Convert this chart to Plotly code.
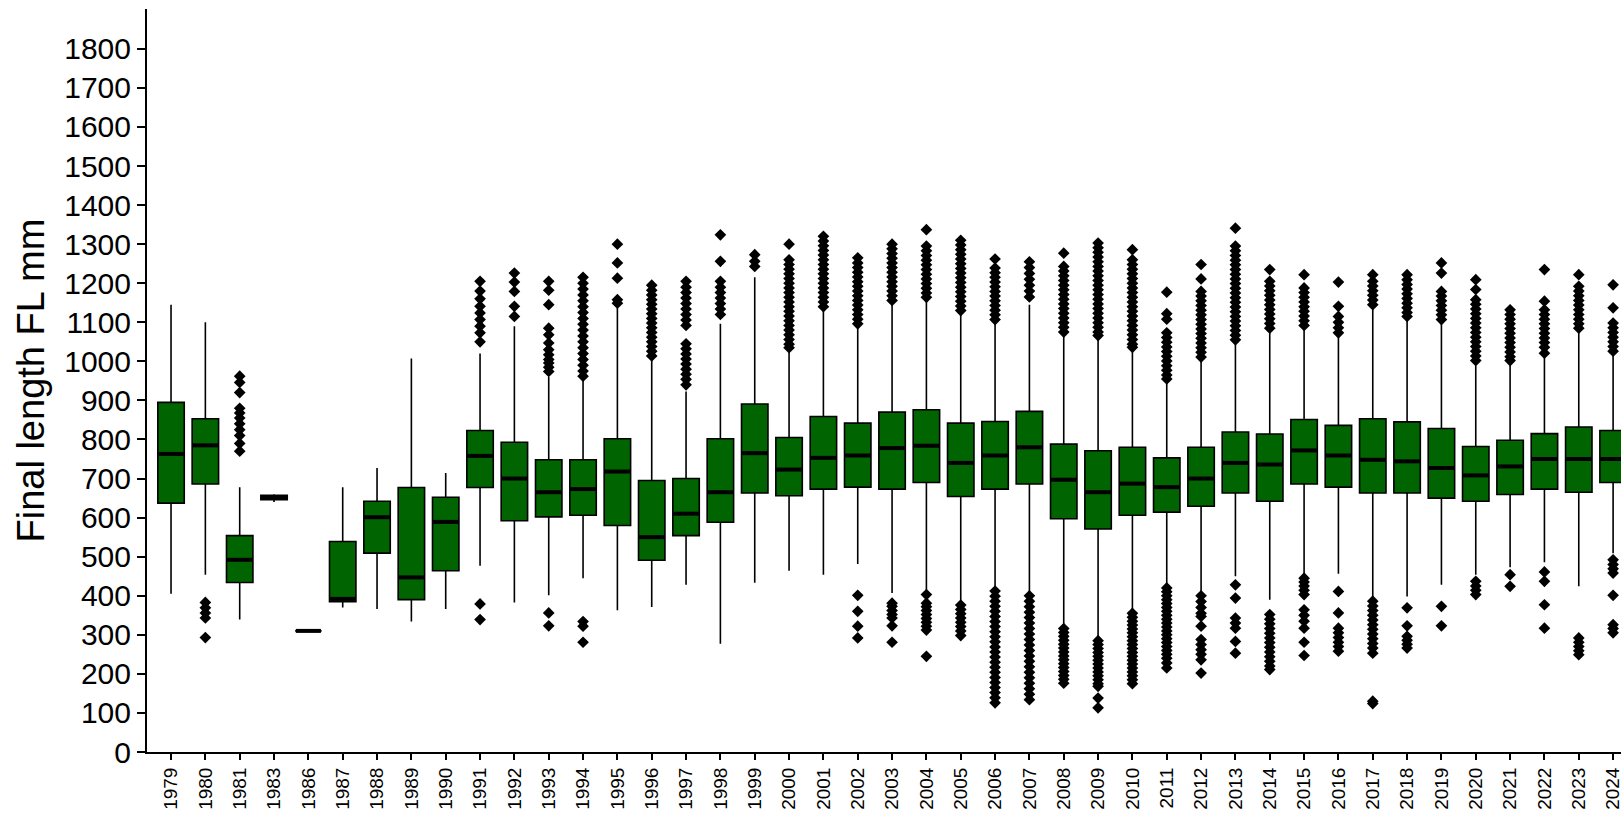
import plotly.graph_objects as go

# Catch years
years = ["1979", "1980", "1981", "1983", "1986", "1987", "1988", "1989", "1990",
         "1991", "1992", "1993", "1994", "1995", "1996", "1997", "1998", "1999",
         "2000", "2001", "2002", "2003", "2004", "2005", "2006", "2007", "2008",
         "2009", "2010", "2011", "2012", "2013", "2014", "2015", "2016", "2017",
         "2018", "2019", "2020", "2021", "2022", "2023", "2024"]

# Box statistics of final fork length (mm), one entry per year
q1 = [637, 686, 434, 646, 310, 385, 509, 390, 464,
      677, 592, 602, 606, 580, 491, 554, 588, 663,
      656, 673, 678, 673, 690, 654, 673, 686, 597,
      571, 606, 614, 629, 663, 642, 686, 678, 663,
      663, 650, 642, 659, 673, 665, 690]
median = [763, 785, 492, 652, 310, 392, 601, 447, 589,
          758, 700, 665, 673, 718, 550, 610, 665, 765,
          723, 753, 759, 778, 784, 740, 759, 780, 697,
          665, 687, 678, 700, 740, 736, 772, 759, 748,
          744, 727, 708, 731, 750, 750, 750]
q3 = [895, 853, 554, 657, 310, 539, 642, 677, 652,
      823, 793, 748, 748, 802, 695, 700, 802, 891,
      805, 859, 842, 870, 876, 842, 846, 872, 788,
      771, 780, 753, 780, 819, 814, 851, 836, 853,
      845, 828, 782, 798, 815, 832, 823]
lower_whisker = [405, 454, 339, 640, 310, 370, 366, 334, 366,
                 477, 383, 401, 445, 363, 371, 428, 277, 433,
                 464, 454, 481, 407, 412, 385, 420, 407, 322,
                 295, 365, 430, 407, 450, 390, 454, 456, 390,
                 398, 428, 454, 473, 486, 424, 509]
upper_whisker = [1145, 1100, 678, 660, 310, 678, 727, 1007, 714,
                 1020, 1090, 960, 955, 1139, 1004, 923, 1096, 1215,
                 1030, 1132, 1085, 1149, 1160, 1120, 1098, 1145, 1064,
                 1060, 1030, 949, 1000, 1043, 1073, 1083, 1068, 1141,
                 1114, 1102, 989, 996, 1017, 1081, 1021]

# Outlying fish above the upper whisker, per year
outliers_high = [
    [],
    [],
    [962, 946, 920, 880, 868, 855, 840, 825, 810, 790, 770],
    [],
    [],
    [],
    [],
    [],
    [],
    [1205, 1180, 1160, 1141, 1124, 1107, 1090, 1073, 1050],
    [1226, 1203, 1179, 1141, 1115],
    [1205, 1182, 1145, 1085, 1068, 1047, 1030, 1017, 1005, 996, 985, 974],
    [1215, 1200, 1185, 1170, 1155, 1140, 1125, 1110, 1095, 1080, 1065, 1050,
     1035, 1020, 1005, 990, 975, 962],
    [1300, 1252, 1213, 1158, 1149],
    [1195, 1182, 1170, 1158, 1146, 1134, 1122, 1110, 1098, 1086, 1074, 1062,
     1050, 1038, 1026, 1014],
    [1205, 1190, 1176, 1162, 1148, 1134, 1120, 1106, 1092, 1045, 1032, 1019,
     1006, 993, 980, 967, 954, 940],
    [1324, 1256, 1205, 1190, 1176, 1162, 1148, 1134, 1120],
    [1273, 1256, 1243],
    [1300, 1260, 1248, 1236, 1224, 1212, 1200, 1188, 1176, 1164, 1152, 1140,
     1128, 1116, 1104, 1092, 1080, 1068, 1056, 1044, 1035],
    [1320, 1308, 1296, 1284, 1272, 1260, 1248, 1236, 1224, 1212, 1200, 1188,
     1176, 1164, 1152, 1140],
    [1265, 1252, 1240, 1228, 1216, 1204, 1192, 1180, 1168, 1156, 1144, 1132,
     1120, 1108, 1096],
    [1300, 1288, 1276, 1264, 1252, 1240, 1228, 1216, 1204, 1192, 1180, 1168,
     1156],
    [1337, 1295, 1283, 1271, 1259, 1247, 1235, 1223, 1211, 1199, 1187, 1175,
     1164],
    [1310, 1298, 1286, 1274, 1262, 1250, 1238, 1226, 1214, 1202, 1190, 1178,
     1166, 1154, 1142, 1130],
    [1262, 1239, 1227, 1215, 1203, 1191, 1179, 1167, 1155, 1143, 1131, 1119,
     1107],
    [1255, 1240, 1225, 1210, 1195, 1180, 1165],
    [1277, 1243, 1231, 1219, 1207, 1195, 1183, 1171, 1159, 1147, 1135, 1123,
     1111, 1099, 1087, 1075],
    [1303, 1291, 1279, 1267, 1255, 1243, 1231, 1219, 1207, 1195, 1183, 1171,
     1159, 1147, 1135, 1123, 1111, 1099, 1087, 1075, 1066],
    [1286, 1260, 1248, 1236, 1224, 1212, 1200, 1188, 1176, 1164, 1152, 1140,
     1128, 1116, 1104, 1092, 1080, 1068, 1056, 1044, 1036],
    [1177, 1122, 1108, 1073, 1061, 1049, 1037, 1025, 1013, 1001, 989, 977,
     965, 955],
    [1248, 1211, 1179, 1167, 1155, 1143, 1131, 1119, 1107, 1095, 1083, 1071,
     1059, 1047, 1035, 1023, 1011],
    [1341, 1295, 1283, 1271, 1259, 1247, 1235, 1223, 1211, 1199, 1187, 1175,
     1163, 1151, 1139, 1127, 1115, 1103, 1091, 1079, 1067, 1055],
    [1235, 1205, 1193, 1181, 1169, 1157, 1145, 1133, 1121, 1109, 1097, 1085],
    [1222, 1188, 1176, 1164, 1152, 1140, 1128, 1116, 1104, 1092],
    [1203, 1141, 1115, 1100, 1086, 1073],
    [1222, 1205, 1193, 1181, 1169, 1157, 1145],
    [1222, 1209, 1197, 1185, 1173, 1161, 1149, 1137, 1125, 1115],
    [1252, 1226, 1179, 1167, 1155, 1143, 1131, 1119, 1107],
    [1209, 1184, 1158, 1146, 1134, 1122, 1110, 1098, 1086, 1074, 1062, 1050,
     1038, 1026, 1014, 1002],
    [1132, 1120, 1108, 1096, 1084, 1072, 1060, 1048, 1036, 1024, 1012, 1002],
    [1235, 1154, 1132, 1120, 1108, 1096, 1084, 1072, 1060, 1048, 1036, 1021],
    [1222, 1192, 1180, 1168, 1156, 1144, 1132, 1120, 1108, 1096, 1085],
    [1196, 1137, 1098, 1086, 1074, 1062, 1050, 1038, 1026],
]

# Outlying fish below the lower whisker, per year
outliers_low = [
    [],
    [383, 369, 356, 343, 293],
    [],
    [],
    [],
    [],
    [],
    [],
    [],
    [379, 339],
    [],
    [356, 323],
    [334, 322, 281],
    [],
    [],
    [],
    [],
    [],
    [],
    [],
    [401, 360, 322, 292],
    [381, 373, 362, 352, 343, 323, 281],
    [403, 381, 372, 362, 352, 342, 332, 322, 312, 245],
    [376, 365, 354, 343, 332, 321, 310, 298],
    [412, 399, 386, 373, 360, 347, 334, 321, 308, 295, 282, 269, 256, 243,
     230, 217, 204, 191, 178, 165, 152, 139, 126],
    [400, 386, 372, 358, 344, 330, 316, 302, 288, 274, 260, 246, 232, 218,
     204, 190, 176, 162, 148, 134],
    [316, 306, 296, 286, 276, 266, 256, 246, 236, 226, 216, 206, 196, 186,
     176],
    [285, 275, 265, 255, 245, 235, 225, 215, 205, 195, 185, 175, 168, 138,
     113],
    [355, 345, 335, 325, 315, 305, 295, 285, 275, 265, 255, 245, 235, 225,
     215, 205, 195, 185, 175],
    [420, 410, 400, 390, 380, 370, 360, 350, 340, 330, 320, 310, 300, 290,
     280, 270, 260, 250, 240, 228, 215],
    [400, 385, 370, 355, 347, 322, 288, 275, 262, 250, 236, 202],
    [428, 394, 343, 330, 317, 283, 253],
    [352, 340, 328, 316, 304, 292, 280, 268, 256, 244, 232, 220, 211],
    [445, 435, 425, 414, 403, 364, 350, 335, 317, 281, 247],
    [411, 356, 317, 305, 293, 281, 270, 258],
    [386, 374, 362, 350, 338, 326, 314, 302, 290, 278, 266, 253, 130, 124],
    [369, 323, 296, 286, 276, 266],
    [373, 323],
    [437, 425, 414, 403],
    [454, 424],
    [461, 437, 377, 317],
    [292, 281, 270, 259, 249],
    [492, 480, 469, 458, 401, 326, 316, 305],
]

y_ticks = list(range(0, 1900, 100))

BOX_W = 0.77
pos = list(range(len(years)))

fig = go.Figure()

fig.add_trace(go.Box(
    x=pos, q1=q1, median=median, q3=q3,
    lowerfence=lower_whisker, upperfence=upper_whisker,
    width=BOX_W, whiskerwidth=0,
    fillcolor="#006400",
    line=dict(color="#000000", width=1.6),
    boxpoints=False, hoverinfo="skip",
))

# Heavier median bars drawn on top of each box
mx, my = [], []
half = BOX_W / 2 - 0.02
for p, m in zip(pos, median):
    mx += [p - half, p + half, None]
    my += [m, m, None]
fig.add_trace(go.Scatter(
    x=mx, y=my, mode="lines",
    line=dict(color="#000000", width=4),
    hoverinfo="skip",
))

# Outlier diamonds
ox, oy = [], []
for p, hi, lo in zip(pos, outliers_high, outliers_low):
    for v in hi + lo:
        ox.append(p)
        oy.append(v)
fig.add_trace(go.Scatter(
    x=ox, y=oy, mode="markers",
    marker=dict(symbol="diamond", size=9, color="#000000",
                line=dict(width=0)),
    hoverinfo="skip",
))

fig.update_layout(
    width=1621, height=819,
    margin=dict(l=147, r=0, t=9, b=67),
    paper_bgcolor="white", plot_bgcolor="white",
    showlegend=False,
    font=dict(family="Liberation Sans, Arial, sans-serif", color="#000000"),
    xaxis=dict(
        range=[-0.7, 42.23],
        tickmode="array", tickvals=pos, ticktext=years,
        tickangle=-90, ticklabeloverflow="allow",
        tickfont=dict(size=19, family="Liberation Sans, Arial, sans-serif"),
        ticks="outside", ticklen=6, tickwidth=1.5, tickcolor="#000000",
        showline=True, linecolor="#000000", linewidth=2,
        showgrid=False, zeroline=False, automargin=False,
    ),
    yaxis=dict(
        range=[0, 1902],
        tickmode="array", tickvals=y_ticks,
        tickfont=dict(size=30, family="Liberation Sans, Arial, sans-serif"),
        ticks="outside", ticklen=8, tickwidth=1.5, tickcolor="#000000",
        showline=True, linecolor="#000000", linewidth=2,
        showgrid=False, zeroline=False, automargin=False,
    ),
    annotations=[dict(
        text="Final length FL mm",
        xref="paper", yref="paper",
        x=(30 - 147) / (1621 - 147), y=0.5,
        xanchor="center", yanchor="middle",
        textangle=-90, showarrow=False,
        font=dict(size=38, family="Liberation Sans, Arial, sans-serif",
                  color="#000000"),
    )],
)

fig.write_html("out.html")
